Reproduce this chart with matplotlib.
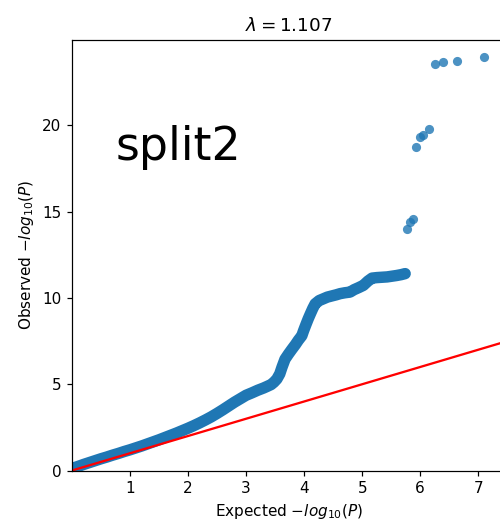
"""
QQ plot (split2): observed vs expected -log10(P), lambda = 1.107
"""
import numpy as np
import matplotlib
matplotlib.use('Agg')
import matplotlib.pyplot as plt

DPI = 110

# dense part of the QQ curve: expected / observed -log10(P)
expected = [
    0.00, 0.10, 0.20, 0.30, 0.40, 0.50, 0.60, 0.70, 0.80, 0.90,
    1.00, 1.10, 1.20, 1.30, 1.40, 1.50, 1.60, 1.70, 1.80, 1.90,
    2.00, 2.10, 2.20, 2.30, 2.40, 2.50, 2.60, 2.70, 2.80, 2.90,
    3.00, 3.10, 3.20, 3.30, 3.36, 3.43, 3.48, 3.53, 3.58, 3.62,
    3.67, 3.73, 3.79, 3.85, 3.90, 3.96, 3.99, 4.03, 4.07, 4.11,
    4.15, 4.19, 4.26, 4.33, 4.40, 4.48, 4.55, 4.62, 4.70, 4.79,
    4.86, 4.94, 5.02, 5.10, 5.17, 5.25, 5.34, 5.43, 5.51, 5.59,
    5.67, 5.74,
]
observed = [
    0.12, 0.23, 0.35, 0.46, 0.57, 0.68, 0.78, 0.89, 0.99, 1.10,
    1.20, 1.31, 1.42, 1.54, 1.66, 1.78, 1.91, 2.04, 2.17, 2.31,
    2.45, 2.60, 2.76, 2.93, 3.11, 3.31, 3.52, 3.74, 3.96, 4.16,
    4.36, 4.50, 4.65, 4.78, 4.87, 4.98, 5.12, 5.30, 5.60, 6.00,
    6.45, 6.75, 7.03, 7.30, 7.55, 7.81, 8.10, 8.45, 8.79, 9.10,
    9.40, 9.66, 9.85, 9.95, 10.05, 10.12, 10.18, 10.25, 10.30, 10.34,
    10.48, 10.60, 10.73, 10.98, 11.15, 11.18, 11.20, 11.22, 11.26, 11.30,
    11.35, 11.41,
]
# isolated top hits
tail_expected = [5.77, 5.83, 5.88, 5.93, 5.99, 6.05, 6.15, 6.26, 6.40, 6.63, 7.10]
tail_observed = [14.00, 14.40, 14.55, 18.75, 19.30, 19.45, 19.80, 23.55, 23.70, 23.75, 23.95]

lam = 1.107
label = 'split2'


def main():
    fig = plt.figure(figsize=(500 / DPI, 525 / DPI), dpi=DPI)
    # axes runs a little past the right edge, like the cropped original
    ax = fig.add_axes([0.144, 0.1038, 0.866, 0.82])

    # thousands of overlapping points in the original -> solid band
    ax.plot(expected, observed, color='#1f77b4', lw=7.5,
            solid_capstyle='round', solid_joinstyle='round')
    ax.scatter(tail_expected, tail_observed, s=36, color='tab:blue',
               alpha=0.8, linewidths=0)
    lim = 7.46
    ax.plot([0, lim], [0, lim], color='red', lw=1.5)

    ax.set_xlim(0.001, lim)
    ax.set_ylim(0, 24.95)
    ax.set_xlabel(r'Expected $-log_{10}(P)$')
    ax.set_ylabel(r'Observed $-log_{10}(P)$')
    ax.set_title(rf'$\lambda = {lam}$')

    ax.text(0.1, 0.75, label, transform=ax.transAxes, va='center',
            fontsize=30)

    fig.savefig('out.png', dpi=DPI)
    plt.close(fig)


if __name__ == '__main__':
    main()
